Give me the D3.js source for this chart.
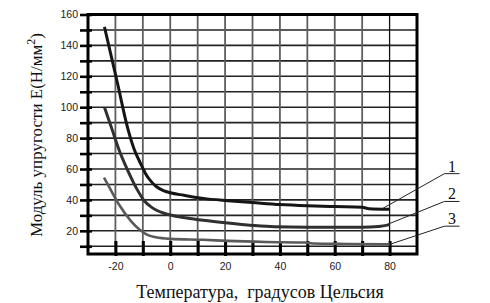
<!DOCTYPE html>
<html><head><meta charset="utf-8">
<script src="https://cdn.jsdelivr.net/npm/d3@7"></script>
<style>
html,body{margin:0;padding:0;background:#fff;}
svg{display:block;}
</style></head>
<body>
<svg id="chart" width="490" height="303"></svg>
<script>
// ---- data ----
const curveNames = ["1", "2", "3"];
const curve1 = [[-24,152],[-19.3,116],[-15.6,87],[-13.2,73],[-10.8,63.5],[-9,57],[-7,52],[-5,48.5],[-2.5,46],[0,44.6],[5,43],[12,41],[21,39.5],[30,38.3],[40,37],[50,36.2],[60,35.7],[70,35.3],[72.5,34.3],[80,34]];
const curve2 = [[-24,100],[-21.1,85],[-18.7,72.5],[-15.6,59.5],[-12,46.5],[-9.5,39.5],[-7,35.5],[-5,33.3],[-2,31.2],[0,30.2],[6,28.3],[12,26.8],[21,25],[30,23.5],[38,22.6],[50,22.3],[60,22.3],[70,22.3],[76,22.8],[80,24]];
const curve3 = [[-24.2,54.5],[-21.7,46.5],[-18.7,37],[-14.4,26.5],[-11,20.5],[-8.5,17.5],[-5.2,15.8],[0,14.8],[12,14.2],[21,13.5],[35,12.8],[49,12.4],[52,11.8],[65,11.5],[80,11.2]];
const xTickLabels = [-20, 0, 20, 40, 60, 80];
const xMinorTicks = [-20,-10,0,10,20,30,40,50,60,70,80];
const yTickLabels = [20, 40, 60, 80, 100, 120, 140, 160];
const yMinorTicks = [10,20,30,40,50,60,70,80,90,100,110,120,130,140,150,160];
const labelElbowE = [57, 39, 23];
const leaderStartT = [77, 79, 80];
const xTitle = "Температура,  градусов Цельсия";
const yTitleMain = "Модуль упругости E(Н/мм";
const yTitleSup = "2";
const yTitleEnd = ")";

// ---- scales ----
const svg = d3.select("#chart");
const x = d3.scaleLinear().domain([-30, 90]).range([88, 417]);
const y = d3.scaleLinear().domain([5, 160]).range([254, 14.5]);

const tickFont = "Liberation Sans, Arial, sans-serif";
const serif = "Liberation Serif, Times New Roman, serif";

// grid
const grid = svg.append("g");
grid.selectAll("line.h").data(yMinorTicks.filter(d => d < 160)).enter().append("line")
  .attr("x1", x(-30)).attr("x2", x(90))
  .attr("y1", d => y(d)).attr("y2", d => y(d))
  .attr("stroke", "#222").attr("stroke-width", 1.6);
grid.selectAll("line.v").data(xMinorTicks).enter().append("line")
  .attr("y1", y(160)).attr("y2", y(5))
  .attr("x1", d => x(d)).attr("x2", d => x(d))
  .attr("stroke", d => d === 80 ? "#111" : "#5e5e5e").attr("stroke-width", d => d === 80 ? 1.3 : 1.8);

// frame
svg.append("rect")
  .attr("x", x(-30)).attr("y", y(160))
  .attr("width", x(90) - x(-30)).attr("height", y(5) - y(160))
  .attr("fill", "none").attr("stroke", "#000").attr("stroke-width", 3);

// y axis
const yAxis = d3.axisLeft(y).tickValues(yMinorTicks).tickSize(8).tickFormat(d => yTickLabels.includes(d) ? d : "");
const gy = svg.append("g").attr("transform", `translate(${x(-30)},0)`).call(yAxis);
gy.select(".domain").remove();
gy.selectAll(".tick line").attr("stroke", "#000").attr("stroke-width", 2.6).attr("x2", -8).attr("x1", 4);
gy.selectAll(".tick text").attr("font-family", tickFont).attr("font-size", 10.5).attr("fill", "#1a1a1a").attr("x", -10);

// x axis
const xAxis = d3.axisBottom(x).tickValues(xMinorTicks).tickSize(0).tickFormat(d => xTickLabels.includes(d) ? d : "");
const gx = svg.append("g").attr("transform", `translate(0,${y(5)})`).call(xAxis);
gx.select(".domain").remove();
gx.selectAll(".tick line").attr("stroke", "#000").attr("stroke-width", 3).attr("y1", -13).attr("y2", 2);
gx.selectAll(".tick text").attr("font-family", tickFont).attr("font-size", 10.5).attr("fill", "#1a1a1a").attr("y", 9);

// curves
const line = d3.line().x(d => x(d[0])).y(d => y(d[1])).curve(d3.curveMonotoneX);
const curves = [curve1, curve2, curve3];
const colors = ["#151515", "#303030", "#5a5a5a"];
const widths = [3, 3, 2.6];
curves.forEach((c, i) => {
  svg.append("path").datum(c).attr("d", line)
    .attr("fill", "none").attr("stroke", colors[i]).attr("stroke-width", widths[i])
    .attr("stroke-linejoin", "round").attr("stroke-linecap", "butt");
});

// leaders & labels
curves.forEach((c, i) => {
  const end = c[c.length - 1];
  const sx = x(leaderStartT[i]), sy = y(end[1]);
  svg.append("polyline")
    .attr("points", `${sx},${sy} ${x(100)},${y(labelElbowE[i])} ${x(105.5)},${y(labelElbowE[i])}`)
    .attr("fill", "none").attr("stroke", "#222").attr("stroke-width", 1);
  svg.append("text").attr("x", x(102.8)).attr("y", y(labelElbowE[i]) - 2)
    .attr("text-anchor", "middle").attr("font-family", serif).attr("font-size", 16).attr("fill", "#111")
    .text(curveNames[i]);
});

// titles
svg.append("text").attr("x", 260).attr("y", 298).attr("text-anchor", "middle")
  .attr("font-family", serif).attr("font-size", 18).attr("fill", "#111").attr("xml:space", "preserve")
  .style("white-space", "pre").text(xTitle);

const yt = svg.append("text").attr("transform", "translate(42,135) rotate(-90)")
  .attr("text-anchor", "middle").attr("font-family", serif).attr("font-size", 17).attr("fill", "#111");
yt.append("tspan").text(yTitleMain);
yt.append("tspan").attr("dy", -7).attr("font-size", 12).text(yTitleSup);
yt.append("tspan").attr("dy", 7).text(yTitleEnd);
</script>
</body></html>
